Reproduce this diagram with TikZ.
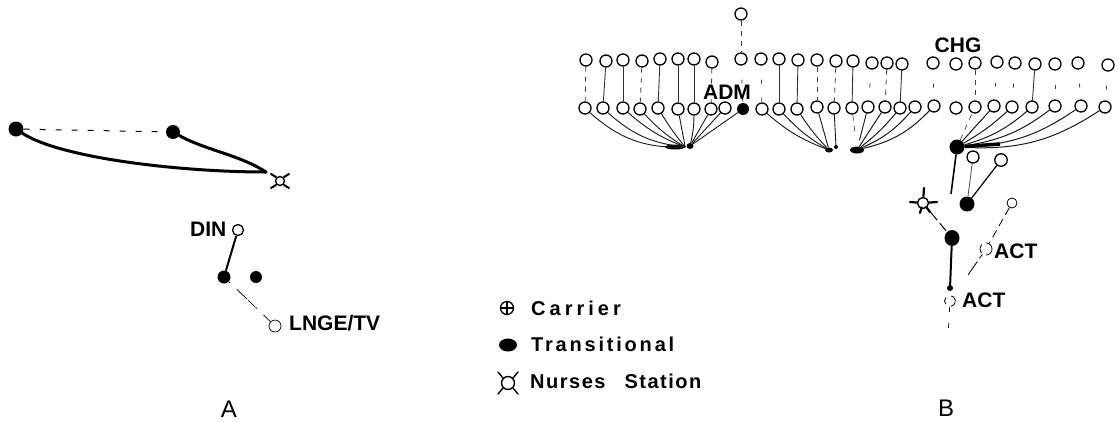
\documentclass[tikz,border=0pt]{standalone}
\usepackage{fontspec}
\setmainfont{Liberation Sans}
\usetikzlibrary{shapes.geometric,calc}
\tikzset{
  carrier/.style={circle,draw=black,fill=white,line width=1.3pt,inner sep=0pt,minimum size=12pt},
  broken/.style={carrier,dash pattern=on 9pt off 5pt},
  trans/.style={ellipse,fill=black,inner sep=0pt,minimum width=13pt,minimum height=13pt},
  tiny/.style={trans,minimum width=8pt,minimum height=7pt},
  hubstub/.style={ellipse,fill=black,inner sep=0pt},
  station/.style={circle,draw=black,fill=white,line width=1.4pt,inner sep=0pt,minimum size=11pt},
  stub/.style={line width=2.2pt,line cap=round},
  label/.style={font=\bfseries\fontsize{21}{22}\selectfont,inner sep=0pt,anchor=west},
  legendtext/.style={font=\bfseries\fontsize{20}{21}\selectfont,inner sep=0pt,anchor=west},
  panel/.style={font=\fontsize{24}{25}\selectfont,inner sep=0pt},
  solidv/.style={line width=.9pt,black!80},
  dashv/.style={line width=.8pt,black!75,dash pattern=on 5pt off 5pt},
  sparsev/.style={line width=.8pt,black!75,dash pattern=on 4pt off 14pt,dash phase=-14pt},
  spoke/.style={line width=.9pt,black!90},
  faint/.style={line width=.7pt,black!70,dash pattern=on 6pt off 5pt},
  heavy/.style={line width=3pt,line cap=round},
}
\begin{document}
\begin{tikzpicture}[x=1pt,y=-1pt]
\useasboundingbox (0,0) rectangle (1118,421);
% ---------- Panel A ----------
\node[trans,minimum width=15pt,minimum height=15pt] (a1) at (16,129) {};
\node[trans,minimum width=14pt,minimum height=14pt] (a2) at (173,132) {};
\node[station,minimum size=9pt] (an) at (280,181) {};
\coordinate (tip) at (266,172);
\foreach \dx/\dy in {-1/-1,1/-1,-1/1,1/1}
  \draw[line width=2pt,line cap=round] ($(280,181)+(\dx*4,\dy*4)$) -- ($(280,181)+(\dx*9,\dy*7)$);
\draw[line width=1pt,dash pattern=on 6pt off 10pt] (a1) -- (a2);
\draw[heavy] (a1) .. controls (60,158) and (180,172) .. (tip);
\draw[heavy] (a2) .. controls (205,150) and (240,155) .. (tip);
\node[carrier,minimum size=11pt] (din) at (238,230) {};
\node[trans] (a3) at (224,277) {};
\node[trans,minimum width=12pt,minimum height=12pt] (a4) at (256,277) {};
\node[carrier,line width=.7pt] (lnge) at (275,326) {};
\draw[line width=2pt] (a3) -- (din);
\draw[line width=.7pt,dash pattern=on 2pt off 9pt on 14pt off 2pt on 9pt off 1pt] (a3) -- (lnge);
\node[label] (dinl) at (190,229) {DIN};
\node[label] (lngel) at (289,323) {LNGE/TV};
\node[panel] (pa) at (229,409) {A};
% ---------- Panel B: top row ----------
\node[carrier] (t0) at (741,14) {};
\foreach \n/\x/\y in {1/586/60,2/606/61,3/623/60,4/642/61,5/660/59,6/678/59,7/694/59,8/712/62,
  9/741/59,10/761/59,11/779/59,12/798/60,13/817/60,14/836/61,15/853/61,16/872/63,17/887/63,18/902/64,
  19/933/63,20/956/64,21/975/63,22/997/62,23/1015/63,24/1035/64,25/1055/64,26/1078/63,27/1108/65}
  \node[carrier] (t\n) at (\x,\y) {};
% bottom row
\foreach \n/\x/\y in {1/585/108,2/603/108,3/623/108,4/640/109,5/658/108,6/678/109,7/694/109,8/711/109,9/725/108,
  11/762/109,12/779/109,13/797/109,14/817/107,15/834/108,16/852/108,17/868/107,18/885/107,19/900/108,20/915/107,
  21/934/106,22/956/108,23/975/107,24/994/106,25/1012/107,26/1032/107,27/1055/106,28/1081/106,29/1105/107}
  \node[carrier] (b\n) at (\x,\y) {};
\node[trans,minimum width=12pt,minimum height=12pt] (b10) at (743,109) {};
% hubs
\node[hubstub,minimum width=20pt,minimum height=5pt] (ha) at (675,147) {};
\node[hubstub,minimum width=7pt,minimum height=6pt] (hb) at (690,146) {};
\node[hubstub,minimum width=8pt,minimum height=5pt] (hc) at (829,150) {};
\node[hubstub,minimum width=4pt,minimum height=4pt] (hd) at (836,147) {};
\node[hubstub,minimum width=14pt,minimum height=7pt] (he) at (857,150) {};
\node[trans,minimum width=15pt,minimum height=15pt] (hf) at (957,147) {};
\coordinate (taper) at (1000,144);
% verticals
\foreach \a/\b/\s in {1/1/dashv,2/2/solidv,3/3/solidv,4/4/dashv,5/5/solidv,6/6/solidv,7/7/solidv,8/8/dashv,
  9/10/sparsev,10/11/sparsev,11/12/solidv,12/13/solidv,13/14/dashv,14/15/dashv,15/16/solidv,16/17/sparsev,17/18/dashv,18/19/solidv,
  19/21/sparsev,21/23/dashv,22/24/sparsev,23/25/sparsev,24/26/solidv,25/27/sparsev,26/28/sparsev,27/29/sparsev}
  \draw[\s] (t\a) -- (b\b);
\draw[dashv] (t0) -- (t9);
% spokes
\foreach \n/\b in {1/22,2/18,3/10,4/8,5/4,6/0}
  \draw[spoke] (b\n) to[bend right=\b] (ha.east);
\foreach \n/\b in {7/6,8/0,9/0,10/0}
  \draw[spoke] (b\n) to[bend left=\b] (hb);
\foreach \n/\b in {11/10,12/8,13/5,14/0}
  \draw[spoke] (b\n) to[bend right=\b] (hc);
\draw[spoke] (b15) -- (hd);
\draw[faint,shorten >=10pt] (b16) -- (he);
\draw[spoke,shorten >=6pt] (b17) -- (he);
\foreach \n/\b in {18/0,19/6,20/12,21/16}
  \draw[spoke,line width=1pt] (he) to[bend right=\b] (b\n);
\draw[faint] (hf) -- (b23);
\foreach \n/\b in {24/0,25/6,26/12,27/14,28/16,29/18}
  \draw[spoke,line width=1pt] (hf) to[bend right=\b] (b\n);
\draw[line width=3.5pt] (hf) -- (taper);
% labels on top of the row
\node[label,anchor=center,fill=white,inner sep=0pt] (adm) at (727,92) {ADM};
\node[label,anchor=center] (chg) at (958,45) {CHG};
% lower cluster
\node[carrier] (c1) at (973,157) {};
\node[carrier,minimum size=12.5pt] (c2) at (1001,160) {};
\node[trans,minimum width=15pt,minimum height=15pt] (d1) at (967,204) {};
\node[trans,minimum width=15pt,minimum height=16pt] (d2) at (952,238) {};
\node[tiny,minimum width=6pt,minimum height=6pt] (d3) at (950,288) {};
\node[carrier,minimum size=10pt,line width=.8pt] (e1) at (1012,203) {};
\node[broken,minimum size=12pt,line width=.8pt] (e2) at (986,249) {};
\node[broken,minimum size=11pt,line width=.8pt,dash pattern=on 7pt off 6pt] (e3) at (950,301) {};
\node[station] (sb) at (923,203) {};
\foreach \dx/\dy in {1/-15,-13/-1,14/-1,-3/10,7/9}
  \draw[stub] ($(923,203)+(\dx*.45,\dy*.45)$) -- ($(923,203)+(\dx,\dy)$);
\coordinate (f1) at (951,194);
\coordinate (f2) at (948,337);
\draw[line width=1.6pt] (hf) -- (f1);
\draw[line width=.8pt,black!70] (c1) -- (d1);
\draw[line width=1.2pt] (c2) -- (d1);
\draw[line width=1pt,dash pattern=on 16pt off 4pt on 10pt off 100pt] (sb) -- (d2);
\draw[line width=2pt] (d2) -- (d3);
\draw[line width=.8pt,dash pattern=on 8pt off 5pt] (e1) -- (e2);
\draw[line width=.8pt,dash pattern=on 5pt off 4pt on 16pt off 100pt] (e2) -- (e3);
\draw[line width=.7pt,dash pattern=on 5pt off 11pt] (e3) -- (f2);
\node[label] (act1) at (994,251) {ACT};
\node[label] (act2) at (962,300) {ACT};
\node[panel] (pb) at (946,408) {B};
% ---------- Legend ----------
\node[carrier,minimum size=13pt,path picture={\draw[line width=1.2pt] (path picture bounding box.west)--(path picture bounding box.east) (path picture bounding box.north)--(path picture bounding box.south);}] (lc) at (507,308) {};
\node[trans,minimum width=18pt,minimum height=13pt] (lt) at (508,345) {};
\node[station,minimum size=13pt] (ln) at (508,383) {};
\foreach \dx/\dy in {-1/-1,1/-1,-1/1,1/1}
  \draw[line width=1.4pt,line cap=round] ($(508,383)+(\dx*5,\dy*5)$) -- ($(508,383)+(\dx*10,\dy*11)$);
\node[legendtext] (tc) at (531,308) {\addfontfeature{LetterSpace=20}Carrier};
\node[legendtext] (tt) at (531,344) {\addfontfeature{LetterSpace=14}Transitional};
\node[legendtext] (tn) at (530,381) {\addfontfeature{LetterSpace=7.5}Nurses\hspace{19pt}Station};
\end{tikzpicture}
\end{document}
